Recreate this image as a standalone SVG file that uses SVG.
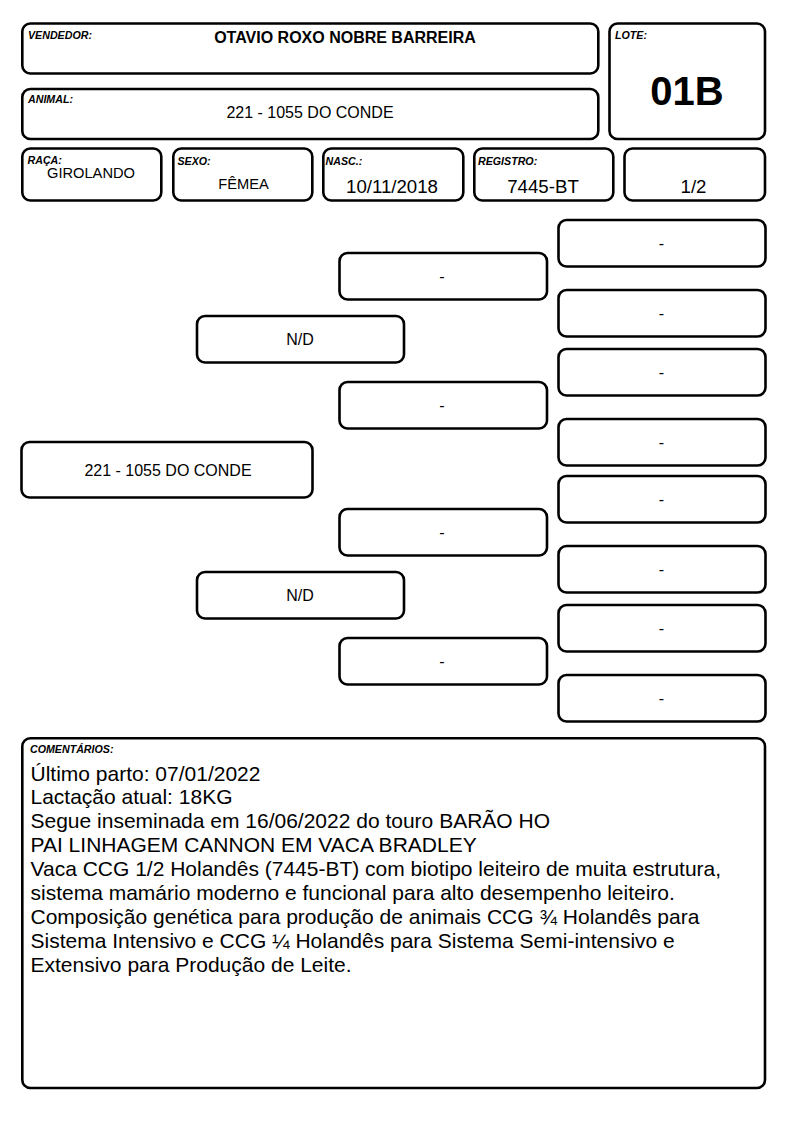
<svg xmlns="http://www.w3.org/2000/svg" width="794" height="1123" viewBox="0 0 794 1123">
<style>
.b{fill:#fff;stroke:#000;stroke-width:2.6}
.lb{font-family:"Liberation Sans",Arial,sans-serif;font-size:10.67px;font-weight:bold;font-style:italic;fill:#000}
.t{font-family:"Liberation Sans",Arial,sans-serif;font-size:16px;fill:#000;text-anchor:middle}
.m{font-family:"Liberation Sans",Arial,sans-serif;font-size:18.67px;fill:#000;text-anchor:middle}
.s{font-family:"Liberation Sans",Arial,sans-serif;font-size:14.67px;fill:#000;text-anchor:middle}
.c{font-family:"Liberation Sans",Arial,sans-serif;font-size:21px;fill:#000}
</style>
<rect width="794" height="1123" fill="#fff"/>
<g id="vendedor">
<rect class="b" x="22.3" y="23.5" width="576" height="50" rx="8"/>
<text class="lb" x="28" y="39">VENDEDOR:</text>
<text class="t" x="345" y="43" font-weight="bold">OTAVIO ROXO NOBRE BARREIRA</text>
</g>
<g id="animal">
<rect class="b" x="22.3" y="89" width="576" height="50" rx="8"/>
<text class="lb" x="28" y="103">ANIMAL:</text>
<text class="t" x="310" y="118">221 - 1055 DO CONDE</text>
</g>
<g id="lote">
<rect class="b" x="609.5" y="23.5" width="155.5" height="115.5" rx="8"/>
<text class="lb" x="615" y="39">LOTE:</text>
<text x="687" y="105" font-family="Liberation Sans,Arial,sans-serif" font-size="40" font-weight="bold" text-anchor="middle">01B</text>
</g>
<g id="raca">
<rect class="b" x="22.3" y="148.5" width="139" height="52" rx="8"/>
<text class="lb" x="27.5" y="164">RAÇA:</text>
<text class="s" x="91" y="177.5">GIROLANDO</text>
</g>
<g id="sexo">
<rect class="b" x="173.3" y="148.5" width="139" height="52" rx="8"/>
<text class="lb" x="177.5" y="165">SEXO:</text>
<text class="s" x="243.5" y="189">FÊMEA</text>
</g>
<g id="nasc">
<rect class="b" x="323.3" y="148.5" width="140" height="52" rx="8"/>
<text class="lb" x="325.5" y="165">NASC.:</text>
<text class="m" x="392" y="193">10/11/2018</text>
</g>
<g id="registro">
<rect class="b" x="474.3" y="148.5" width="139" height="52" rx="8"/>
<text class="lb" x="478" y="165">REGISTRO:</text>
<text class="m" x="543" y="193">7445-BT</text>
</g>
<g id="grau">
<rect class="b" x="624.5" y="148.5" width="140.5" height="52" rx="8"/>
<text class="m" x="693.5" y="193">1/2</text>
</g>
<g id="p-main">
<rect class="b" x="21.5" y="442" width="291" height="55.5" rx="8"/>
<text class="t" x="168" y="476">221 - 1055 DO CONDE</text>
</g>
<g id="p-pai">
<rect class="b" x="197" y="316" width="207" height="46.5" rx="8"/>
<text class="t" x="300" y="345">N/D</text>
</g>
<g id="p-mae">
<rect class="b" x="197" y="572" width="207" height="46.5" rx="8"/>
<text class="t" x="300" y="601">N/D</text>
</g>
<g id="p-m1"><rect class="b" x="339.5" y="253" width="207.5" height="46.5" rx="8"/><text class="t" x="442" y="282">-</text></g>
<g id="p-m2"><rect class="b" x="339.5" y="382" width="207.5" height="46.5" rx="8"/><text class="t" x="442" y="411">-</text></g>
<g id="p-m3"><rect class="b" x="339.5" y="509" width="207.5" height="46.5" rx="8"/><text class="t" x="442" y="538">-</text></g>
<g id="p-m4"><rect class="b" x="339.5" y="638" width="207.5" height="46.5" rx="8"/><text class="t" x="442" y="667">-</text></g>
<g id="p-r1"><rect class="b" x="558.5" y="220" width="207" height="46.5" rx="8"/><text class="t" x="661.5" y="248.5">-</text></g>
<g id="p-r2"><rect class="b" x="558.5" y="290" width="207" height="46.5" rx="8"/><text class="t" x="661.5" y="318.5">-</text></g>
<g id="p-r3"><rect class="b" x="558.5" y="349" width="207" height="46.5" rx="8"/><text class="t" x="661.5" y="377.5">-</text></g>
<g id="p-r4"><rect class="b" x="558.5" y="419" width="207" height="46.5" rx="8"/><text class="t" x="661.5" y="447.5">-</text></g>
<g id="p-r5"><rect class="b" x="558.5" y="476" width="207" height="46.5" rx="8"/><text class="t" x="661.5" y="504.5">-</text></g>
<g id="p-r6"><rect class="b" x="558.5" y="546" width="207" height="46.5" rx="8"/><text class="t" x="661.5" y="574.5">-</text></g>
<g id="p-r7"><rect class="b" x="558.5" y="605" width="207" height="46.5" rx="8"/><text class="t" x="661.5" y="633.5">-</text></g>
<g id="p-r8"><rect class="b" x="558.5" y="675" width="207" height="46.5" rx="8"/><text class="t" x="661.5" y="703.5">-</text></g>
<g id="connectors"></g>
<g id="comentarios">
<rect class="b" x="22.3" y="738.3" width="742.7" height="349.7" rx="8"/>
<text class="lb" x="30" y="753">COMENTÁRIOS:</text>
<text class="c" x="30.5" y="780.5">Último parto: 07/01/2022</text>
<text class="c" x="30.5" y="804.4">Lactação atual: 18KG</text>
<text class="c" x="30.5" y="828.3">Segue inseminada em 16/06/2022 do touro BARÃO HO</text>
<text class="c" x="30.5" y="852.2">PAI LINHAGEM CANNON EM VACA BRADLEY</text>
<text class="c" x="30.5" y="876.1">Vaca CCG 1/2 Holandês (7445-BT) com biotipo leiteiro de muita estrutura,</text>
<text class="c" x="30.5" y="900">sistema mamário moderno e funcional para alto desempenho leiteiro.</text>
<text class="c" x="30.5" y="923.9">Composição genética para produção de animais CCG ¾ Holandês para</text>
<text class="c" x="30.5" y="947.8">Sistema Intensivo e CCG ¼ Holandês para Sistema Semi-intensivo e</text>
<text class="c" x="30.5" y="971.7">Extensivo para Produção de Leite.</text>
</g>
</svg>
